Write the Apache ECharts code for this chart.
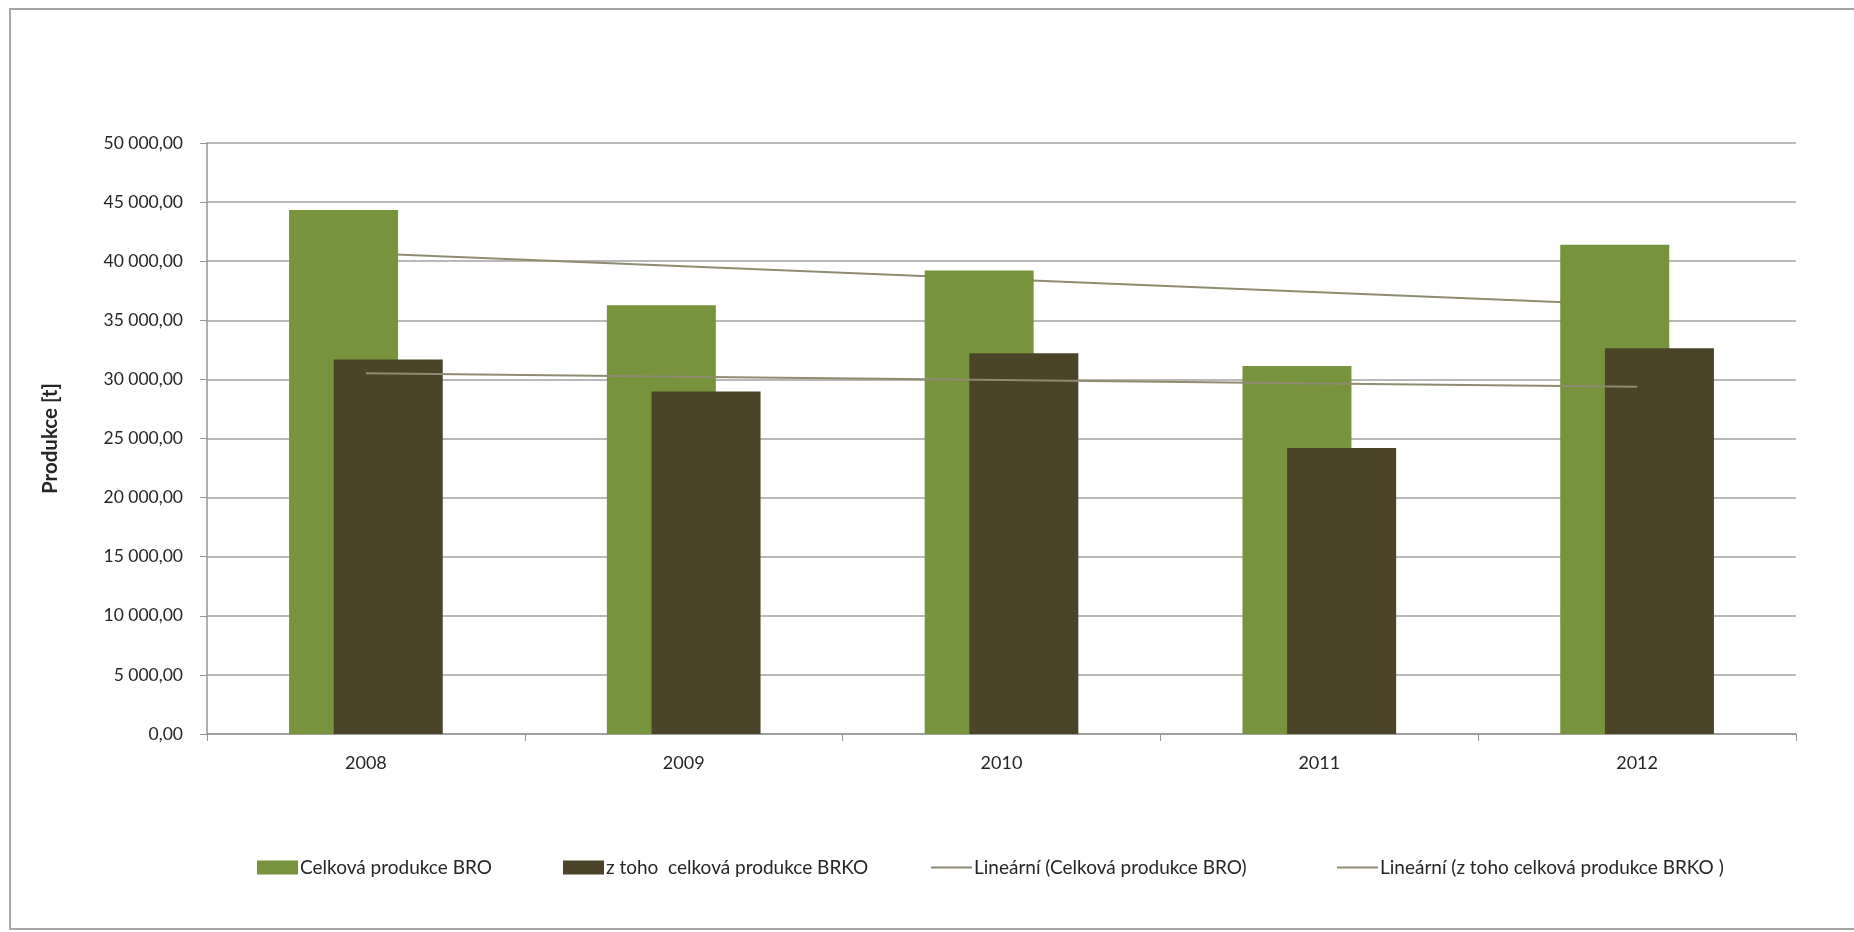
<!DOCTYPE html>
<html>
<head>
<meta charset="utf-8">
<script src="https://cdn.jsdelivr.net/npm/echarts@6/dist/echarts.min.js"></script>
<style>html,body{margin:0;padding:0;background:#fff}#c{width:1854px;height:932px}</style>
</head>
<body>
<div id="c"></div>
<script>
const categories = ['2008', '2009', '2010', '2011', '2012'];
const broValues = [44330, 36280, 39210, 31140, 41400];
const brkoValues = [31680, 28970, 32220, 24200, 32640];
const yTicks = [0, 5000, 10000, 15000, 20000, 25000, 30000, 35000, 40000, 45000, 50000];
const seriesNames = ['Celková produkce BRO', 'z toho  celková produkce BRKO', 'Lineární (Celková produkce BRO)', 'Lineární (z toho celková produkce BRKO )'];

function linearTrend(vals) {
  const n = vals.length;
  let sx = 0, sy = 0, sxx = 0, sxy = 0;
  vals.forEach((v, i) => { const x = i + 1; sx += x; sy += v; sxx += x * x; sxy += x * v; });
  const b = (n * sxy - sx * sy) / (n * sxx - sx * sx);
  const a = (sy - b * sx) / n;
  return vals.map((v, i) => +(a + b * (i + 1)).toFixed(2));
}

function fmt(v) {
  const s = Math.round(v).toString().replace(/\B(?=(\d{3})+(?!\d))/g, ' ');
  return s + ',00';
}

const chart = echarts.init(document.getElementById('c'));
const font = 'Lato, "Open Sans", sans-serif';
const trendColor = '#8f8b70';
const legendBase = { top: 853, itemWidth: 41, itemHeight: 14, itemGap: 0, textStyle: { fontFamily: font, fontSize: 19, color: '#262626', padding: [0, 0, 0, -3] }, selectedMode: false };

chart.setOption({
  backgroundColor: '#fff',
  animation: false,
  graphic: [{ type: 'rect', shape: { x: 10, y: 9, width: 1860, height: 920 }, style: { fill: 'none', stroke: '#a6a6a6', lineWidth: 2 }, silent: true }],
  grid: { left: 207, right: 58, top: 143, bottom: 198 },
  legend: [
    Object.assign({}, legendBase, { left: 252, data: [{ name: seriesNames[0], icon: 'rect' }] }),
    Object.assign({}, legendBase, { left: 558, data: [{ name: seriesNames[1], icon: 'rect' }] }),
    Object.assign({}, legendBase, { left: 926, itemHeight: 2, data: [{ name: seriesNames[2], icon: 'rect' }] }),
    Object.assign({}, legendBase, { left: 1332, itemHeight: 2, data: [{ name: seriesNames[3], icon: 'rect' }] })
  ],
  xAxis: {
    type: 'category',
    data: categories,
    axisLine: { lineStyle: { color: '#969696', width: 1.5 } },
    axisTick: { show: true, length: 7, lineStyle: { color: '#969696' } },
    axisLabel: { margin: 20, fontFamily: font, fontSize: 18, color: '#262626' }
  },
  yAxis: {
    type: 'value',
    min: yTicks[0], max: yTicks[yTicks.length - 1], interval: 5000,
    name: 'Produkce [t]',
    nameLocation: 'middle',
    nameGap: 146,
    nameRotate: 90,
    nameTextStyle: { fontFamily: font, fontSize: 20.5, fontWeight: 'bold', color: '#262626' },
    axisLine: { show: true, lineStyle: { color: '#969696', width: 1.5 } },
    axisTick: { show: true, length: 7, lineStyle: { color: '#969696' } },
    splitLine: { lineStyle: { color: '#a0a0a0', width: 1.5 } },
    axisLabel: { margin: 24, fontFamily: font, fontSize: 17.5, color: '#262626', formatter: fmt }
  },
  series: [
    { name: seriesNames[0], type: 'bar', data: broValues, barWidth: 109, barGap: '-59%', itemStyle: { color: '#77933c' }, z: 2 },
    { name: seriesNames[1], type: 'bar', data: brkoValues, barWidth: 109, itemStyle: { color: '#4b4429' }, z: 2 },
    { name: seriesNames[2], type: 'line', data: linearTrend(broValues), symbol: 'none', lineStyle: { color: trendColor, width: 2 }, itemStyle: { color: trendColor }, z: 1 },
    { name: seriesNames[3], type: 'line', data: linearTrend(brkoValues), symbol: 'none', lineStyle: { color: trendColor, width: 2 }, itemStyle: { color: trendColor }, z: 3 }
  ]
});
</script>
</body>
</html>
